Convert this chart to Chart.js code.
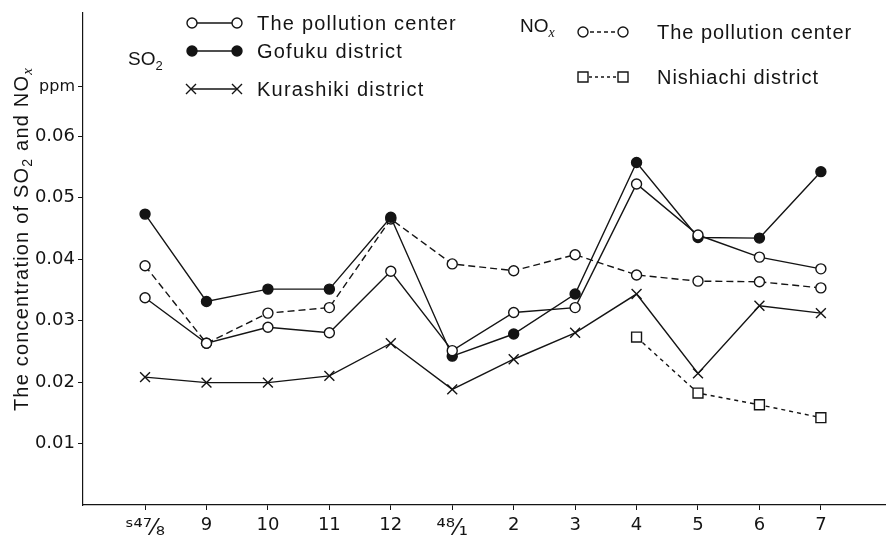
<!DOCTYPE html>
<html>
<head>
<meta charset="utf-8">
<script src="https://cdn.jsdelivr.net/npm/chart.js@4.4.1/dist/chart.umd.min.js"></script>
<style>
html, body { margin: 0; padding: 0; background: #fff; }
#wrap { width: 886px; height: 536px; position: relative; }
</style>
</head>
<body>
<div id="wrap"><canvas id="myChart"></canvas></div>
<script>
// months S47/8 .. 48/7
var months = ['\u02E2\u2074\u2077\u2044\u2088', '9', '10', '11', '12', '\u2074\u2078\u2044\u2081', '2', '3', '4', '5', '6', '7'];

// SO2
var so2Center    = [0.0337, 0.0263, 0.0289, 0.0280, 0.0380, 0.0251, 0.0313, 0.0321, 0.0522, 0.0439, 0.0403, 0.0384];
var so2Gofuku    = [0.0473, 0.0331, 0.0351, 0.0351, 0.0468, 0.0242, 0.0278, 0.0343, 0.0557, 0.0435, 0.0434, 0.0542];
var so2Kurashiki = [0.0208, 0.0199, 0.0199, 0.0210, 0.0263, 0.0188, 0.0237, 0.0280, 0.0343, 0.0214, 0.0324, 0.0312];
// NOx
var noxCenter    = [0.0389, 0.0263, 0.0312, 0.0321, 0.0465, 0.0392, 0.0381, 0.0407, 0.0374, 0.0364, 0.0363, 0.0353];
var noxNishiachi = [null, null, null, null, null, null, null, null, 0.0273, 0.0182, 0.0163, 0.0142];

var yTicks = [0.01, 0.02, 0.03, 0.04, 0.05, 0.06];
var unitTick = 0.068;

var ink = '#141414';

function toPoints(values) {
  var pts = [];
  for (var i = 0; i < values.length; i++) {
    if (values[i] !== null) pts.push({ x: i, y: values[i] });
  }
  return pts;
}

function series(label, values, style, fill, radius, dash) {
  return {
    label: label,
    data: toPoints(values),
    borderColor: ink,
    borderWidth: 1.4,
    borderDash: dash || [],
    pointStyle: style,
    pointRadius: radius,
    pointBackgroundColor: fill,
    pointBorderColor: ink,
    pointBorderWidth: 1.4,
    tension: 0
  };
}

// text with subscripts: parts = [[text, kind]], kind 0 normal, 1 sub, 2 italic sub
function partFont(kind, size) {
  if (kind === 0) return size + 'px "Liberation Sans"';
  if (kind === 1) return Math.round(size * 0.7) + 'px "Liberation Sans"';
  return 'italic ' + Math.round(size * 0.75) + 'px "Liberation Serif"';
}

function measureParts(ctx, parts, size) {
  var w = 0;
  parts.forEach(function(p) {
    ctx.font = partFont(p[1], size);
    w += ctx.measureText(p[0]).width;
  });
  return w;
}

function drawParts(ctx, parts, x, y, size) {
  ctx.textBaseline = 'middle';
  ctx.textAlign = 'left';
  parts.forEach(function(p) {
    ctx.font = partFont(p[1], size);
    var dy = p[1] === 0 ? 0 : size * 0.32;
    ctx.fillText(p[0], x, y + dy);
    x += ctx.measureText(p[0]).width;
  });
}

function marker(ctx, kind, x, y) {
  ctx.beginPath();
  if (kind === 'open' || kind === 'filled') {
    ctx.arc(x, y, 5, 0, Math.PI * 2);
    ctx.fillStyle = kind === 'filled' ? ink : '#fff';
    ctx.fill();
    ctx.stroke();
  } else if (kind === 'square') {
    ctx.fillStyle = '#fff';
    ctx.rect(x - 5, y - 5, 10, 10);
    ctx.fill();
    ctx.stroke();
  } else {
    ctx.moveTo(x - 5, y - 5); ctx.lineTo(x + 5, y + 5);
    ctx.moveTo(x + 5, y - 5); ctx.lineTo(x - 5, y + 5);
    ctx.stroke();
  }
}

function legendRow(ctx, kind, dash, x1, x2, y, text, tx, spacing) {
  ctx.save();
  ctx.strokeStyle = ink;
  ctx.lineWidth = 1.4;
  ctx.setLineDash(dash);
  ctx.beginPath();
  ctx.moveTo(x1, y); ctx.lineTo(x2, y);
  ctx.stroke();
  ctx.setLineDash([]);
  marker(ctx, kind, x1, y);
  marker(ctx, kind, x2, y);
  ctx.fillStyle = ink;
  ctx.font = '20px "Liberation Sans"';
  ctx.letterSpacing = spacing + 'px';
  ctx.textBaseline = 'middle';
  ctx.textAlign = 'left';
  ctx.fillText(text, tx, y + 1);
  ctx.restore();
}

var annotate = {
  id: 'annotate',
  afterDraw: function(chart) {
    var ctx = chart.ctx;
    ctx.save();
    ctx.fillStyle = ink;

    // y axis title, rotated
    var title = [['The concentration of SO', 0], ['2', 1], [' and NO', 0], ['x', 2]];
    ctx.save();
    ctx.translate(22, 239);
    ctx.rotate(-Math.PI / 2);
    var w = measureParts(ctx, title, 20);
    var sp = (343 - w) / 31;
    ctx.letterSpacing = sp + 'px';
    w = measureParts(ctx, title, 20);
    drawParts(ctx, title, -w / 2, 0, 20);
    ctx.restore();

    // legend group labels
    drawParts(ctx, [['SO', 0], ['2', 1]], 128, 60, 19);
    drawParts(ctx, [['NO', 0], ['x', 2]], 520, 27, 19);

    ctx.font = '20px "Liberation Sans"';
    var base = ctx.measureText('The pollution center').width;
    var spacing = (200 - base) / 20;

    legendRow(ctx, 'open', [], 192, 237, 23, 'The pollution center', 257, spacing);
    legendRow(ctx, 'filled', [], 192, 237, 51, 'Gofuku district', 257, spacing);
    legendRow(ctx, 'cross', [], 191, 237, 89, 'Kurashiki district', 257, spacing);
    legendRow(ctx, 'open', [4, 3], 583, 623, 32, 'The pollution center', 657, spacing * 0.8);
    legendRow(ctx, 'square', [3, 3], 583, 623, 77, 'Nishiachi district', 657, spacing * 0.8);
    ctx.restore();
  }
};

new Chart(document.getElementById('myChart').getContext('2d'), {
  type: 'line',
  data: {
    datasets: [
      series('SO2 The pollution center', so2Center, 'circle', '#fff', 5),
      series('SO2 Gofuku district', so2Gofuku, 'circle', ink, 5),
      series('SO2 Kurashiki district', so2Kurashiki, 'crossRot', '#fff', 7),
      series('NOx The pollution center', noxCenter, 'circle', '#fff', 5, [7, 4]),
      series('NOx Nishiachi district', noxNishiachi, 'rect', '#fff', 7, [4, 4])
    ]
  },
  options: {
    responsive: true,
    maintainAspectRatio: false,
    animation: false,
    layout: { autoPadding: false, padding: { top: 13, right: 0, bottom: 0, left: 0 } },
    plugins: {
      legend: { display: false },
      tooltip: { enabled: false }
    },
    scales: {
      x: {
        type: 'linear',
        min: -1.01,
        max: 12.06,
        afterFit: function(s) {
          s.height = 31;
          s.paddingLeft = 0;
          s.paddingRight = 0;
        },
        afterBuildTicks: function(s) {
          s.ticks = months.map(function(m, i) { return { value: i }; });
        },
        ticks: {
          autoSkip: false,
          maxRotation: 0,
          padding: 5,
          color: ink,
          font: function(c) {
            var big = c.index === 0 || c.index === 5;
            return { family: 'DejaVu Sans', size: big ? 23 : 18 };
          },
          callback: function(v) { return months[v]; }
        },
        grid: { drawOnChartArea: false, tickLength: 5, color: ink },
        border: { color: ink, width: 1.3 }
      },
      y: {
        min: 0,
        max: 0.08,
        afterFit: function(s) { s.width = 83; },
        afterBuildTicks: function(s) {
          s.ticks = yTicks.concat([unitTick]).map(function(v) { return { value: v }; });
        },
        ticks: {
          padding: 3,
          color: ink,
          font: function(c) {
            return c.tick && c.tick.value === unitTick
              ? { family: 'DejaVu Sans', size: 16 }
              : { family: 'DejaVu Sans', size: 18 };
          },
          callback: function(v) { return v === unitTick ? 'ppm' : v.toFixed(2); }
        },
        grid: { drawOnChartArea: false, tickLength: 5, color: ink },
        border: { color: ink, width: 1.2 }
      }
    }
  },
  plugins: [annotate]
});
</script>
</body>
</html>
